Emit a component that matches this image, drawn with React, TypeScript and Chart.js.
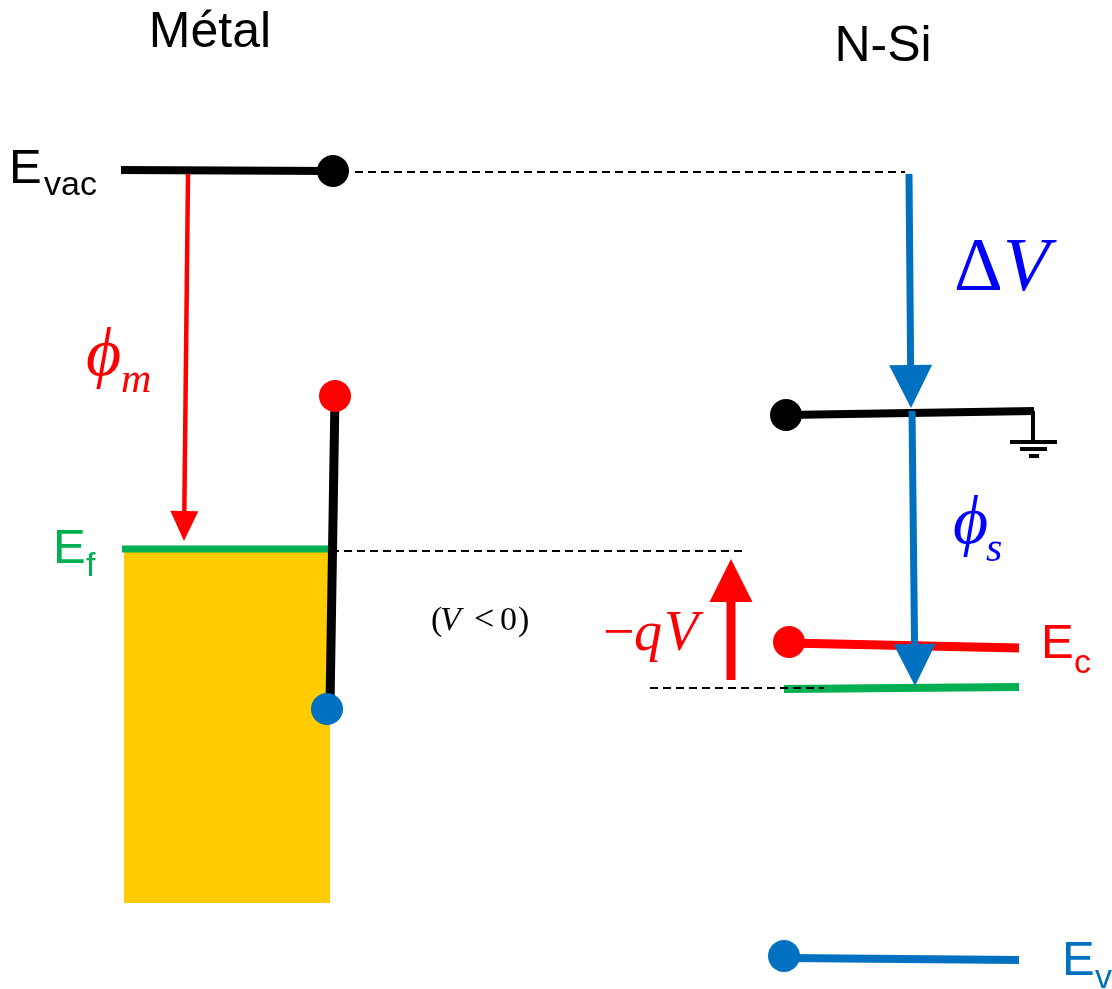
import React, { useEffect, useRef } from 'react';
import { Chart, registerables } from 'chart.js';

Chart.register(...registerables);

type Pt = { x: number; y: number };

// Diagram space: x to the right, y downward (a higher level sits at a smaller y).
const WIDTH = 1112;
const HEIGHT = 989;

// Metal side
const metalVacuum: Pt[] = [{ x: 121, y: 170 }, { x: 333, y: 171 }];
const metalFermi: Pt[] = [{ x: 122, y: 549 }, { x: 328, y: 549 }];
const metalFilled: Pt[] = [{ x: 124, y: 552 }, { x: 330, y: 552 }];
const metalBandBottom = 903;
const metalEdge: Pt[] = [{ x: 335, y: 396 }, { x: 330, y: 706 }];

// N-Si side
const siContact: Pt[] = [{ x: 786, y: 415 }, { x: 1034, y: 411 }];
const groundStem: Pt[] = [{ x: 1033, y: 411 }, { x: 1033, y: 442 }];
const groundBars: Pt[][] = [
  [{ x: 1010, y: 442 }, { x: 1057, y: 442 }],
  [{ x: 1020, y: 449 }, { x: 1047, y: 449 }],
  [{ x: 1029, y: 456 }, { x: 1039, y: 456 }],
];
const siConduction: Pt[] = [{ x: 789, y: 643 }, { x: 1019, y: 648 }];
const siFermi: Pt[] = [{ x: 784, y: 689 }, { x: 1019, y: 687 }];
const siValence: Pt[] = [{ x: 786, y: 958 }, { x: 1019, y: 960 }];

// Reference (dashed) lines
const vacuumDash: Pt[] = [{ x: 355, y: 172 }, { x: 905, y: 172 }];
const fermiDash: Pt[] = [{ x: 331, y: 551 }, { x: 745, y: 551 }];
const siFermiDash: Pt[] = [{ x: 650, y: 688 }, { x: 824, y: 688 }];

// Arrows: start -> tip
const phiMArrow: Pt[] = [{ x: 188, y: 174 }, { x: 184, y: 541 }];
const deltaVArrow: Pt[] = [{ x: 909, y: 174 }, { x: 911, y: 408 }];
const phiSArrow: Pt[] = [{ x: 912, y: 411 }, { x: 915, y: 686 }];
const qVArrow: Pt[] = [{ x: 731, y: 680 }, { x: 731, y: 559 }];

// End dots
const blackDots: Pt[] = [{ x: 333, y: 171 }, { x: 786, y: 415 }];
const redDots: Pt[] = [{ x: 335, y: 396 }, { x: 789, y: 642 }];
const blueDots: Pt[] = [{ x: 327, y: 709 }, { x: 784, y: 956 }];

const SANS = '"Liberation Sans", Arial, sans-serif';
const SERIF = '"Liberation Serif", "Times New Roman", serif';

const RED = '#ff0000';
const GREEN = '#00b050';
const BLUE = '#0070c0';
const MATH_BLUE = '#0000ff';

type Run = { text: string; x: number; y: number; font: string; color: string; align?: CanvasTextAlign };

const labels: Run[] = [
  { text: 'Métal', x: 210, y: 47, font: `50px ${SANS}`, color: '#000', align: 'center' },
  { text: 'N-Si', x: 883, y: 61, font: `50px ${SANS}`, color: '#000', align: 'center' },

  { text: 'E', x: 9, y: 183, font: `49px ${SANS}`, color: '#000' },
  { text: 'vac', x: 44, y: 195, font: `34px ${SANS}`, color: '#000' },

  { text: 'E', x: 53, y: 563, font: `49px ${SANS}`, color: GREEN },
  { text: 'f', x: 86, y: 576, font: `34px ${SANS}`, color: GREEN },

  { text: 'E', x: 1041, y: 658, font: `49px ${SANS}`, color: RED },
  { text: 'c', x: 1074, y: 673, font: `34px ${SANS}`, color: RED },

  { text: 'E', x: 1062, y: 975, font: `49px ${SANS}`, color: BLUE },
  { text: 'v', x: 1095, y: 988, font: `34px ${SANS}`, color: BLUE },

  { text: '\u03D5', x: 86, y: 375, font: `italic 68px ${SERIF}`, color: RED },
  { text: 'm', x: 121, y: 392, font: `italic 42px ${SERIF}`, color: RED },

  { text: '\u03D5', x: 953, y: 543, font: `italic 68px ${SERIF}`, color: MATH_BLUE },
  { text: 's', x: 986, y: 561, font: `italic 42px ${SERIF}`, color: MATH_BLUE },

  { text: '\u0394', x: 954, y: 290, font: `76px ${SERIF}`, color: MATH_BLUE },
  { text: 'V', x: 1003, y: 290, font: `italic 76px ${SERIF}`, color: MATH_BLUE },

  { text: '\u2212', x: 603, y: 650, font: `56px ${SERIF}`, color: RED },
  { text: 'q', x: 634, y: 650, font: `italic 56px ${SERIF}`, color: RED },
  { text: 'V', x: 664, y: 650, font: `italic 56px ${SERIF}`, color: RED },

  { text: '(', x: 431, y: 630, font: `34px ${SERIF}`, color: '#000' },
  { text: 'V', x: 440, y: 630, font: `italic 34px ${SERIF}`, color: '#000' },
  { text: '<', x: 474, y: 630, font: `36px ${SERIF}`, color: '#000' },
  { text: '0', x: 500, y: 630, font: `34px ${SERIF}`, color: '#000' },
  { text: ')', x: 518, y: 630, font: `34px ${SERIF}`, color: '#000' },
];

// Shortens arrow shafts to the base of their heads, then draws the heads.
const arrowHeads = {
  id: 'arrowHeads',
  afterDatasetUpdate(chart: any, args: any) {
    const ds = chart.data.datasets[args.index];
    if (!ds.arrowHead) return;
    const pts = chart.getDatasetMeta(args.index).data;
    const a = pts[pts.length - 2];
    const b = pts[pts.length - 1];
    const dx = b.x - a.x;
    const dy = b.y - a.y;
    const len = Math.hypot(dx, dy) || 1;
    const cut = ds.arrowHead.length - 2;
    b.x -= (dx / len) * cut;
    b.y -= (dy / len) * cut;
  },
  afterDatasetsDraw(chart: any) {
    const { ctx } = chart;
    const xs = chart.scales.x;
    const ys = chart.scales.y;
    chart.data.datasets.forEach((ds: any) => {
      if (!ds.arrowHead) return;
      const d = ds.data as Pt[];
      const from = d[d.length - 2];
      const to = d[d.length - 1];
      const fx = xs.getPixelForValue(from.x);
      const fy = ys.getPixelForValue(from.y);
      const tx = xs.getPixelForValue(to.x);
      const ty = ys.getPixelForValue(to.y);
      const len = Math.hypot(tx - fx, ty - fy) || 1;
      const ux = (tx - fx) / len;
      const uy = (ty - fy) / len;
      const { length, width } = ds.arrowHead;
      const bx = tx - ux * length;
      const by = ty - uy * length;
      ctx.save();
      ctx.fillStyle = ds.borderColor;
      ctx.beginPath();
      ctx.moveTo(tx, ty);
      ctx.lineTo(bx - uy * (width / 2), by + ux * (width / 2));
      ctx.lineTo(bx + uy * (width / 2), by - ux * (width / 2));
      ctx.closePath();
      ctx.fill();
      ctx.restore();
    });
  },
};

const textLabels = {
  id: 'textLabels',
  afterDraw(chart: any) {
    const { ctx } = chart;
    const xs = chart.scales.x;
    const ys = chart.scales.y;
    ctx.save();
    ctx.textBaseline = 'alphabetic';
    labels.forEach((r) => {
      ctx.font = r.font;
      ctx.fillStyle = r.color;
      ctx.textAlign = r.align || 'left';
      ctx.fillText(r.text, xs.getPixelForValue(r.x), ys.getPixelForValue(r.y));
    });
    ctx.restore();
  },
};

function segment(data: Pt[], color: string, width: number, order: number, extra: any = {}) {
  return {
    data,
    showLine: true,
    borderColor: color,
    backgroundColor: color,
    borderWidth: width,
    pointRadius: 0,
    pointHoverRadius: 0,
    fill: false,
    order,
    ...extra,
  };
}

function dots(data: Pt[], color: string) {
  return {
    data,
    showLine: false,
    pointRadius: 16,
    pointHoverRadius: 16,
    pointBorderWidth: 0,
    pointBackgroundColor: color,
    backgroundColor: color,
    borderColor: color,
    order: 0,
  };
}

export default function App() {
  const canvasRef = useRef<HTMLCanvasElement | null>(null);

  useEffect(() => {
    if (!canvasRef.current) return;
    const dash = { borderDash: [8, 5], borderCapStyle: 'butt' };
    const chart = new Chart(canvasRef.current, {
      type: 'scatter',
      data: {
        datasets: [
          segment(metalFilled, '#ffcc00', 0, 5, {
            fill: { value: metalBandBottom },
            backgroundColor: '#ffcc00',
          }),
          segment(metalFermi, GREEN, 7, 4),
          segment(metalVacuum, '#000', 8, 4),
          segment(metalEdge, '#000', 9, 3),
          segment(siContact, '#000', 8, 4),
          segment(groundStem, '#000', 4, 4),
          ...groundBars.map((b) => segment(b, '#000', 4, 4)),
          segment(siConduction, RED, 9, 4),
          segment(siFermi, GREEN, 8, 4),
          segment(siValence, BLUE, 8, 4),
          segment(vacuumDash, '#000', 2, 2, dash),
          segment(fermiDash, '#000', 2, 2, dash),
          segment(siFermiDash, '#000', 2, 2, dash),
          segment(phiMArrow, RED, 4.5, 1, { arrowHead: { length: 30, width: 28 } }),
          segment(deltaVArrow, BLUE, 7, 1, { arrowHead: { length: 43, width: 43 } }),
          segment(phiSArrow, BLUE, 7, 1, { arrowHead: { length: 42, width: 42 } }),
          segment(qVArrow, RED, 9, 1, { arrowHead: { length: 43, width: 43 } }),
          dots(blackDots, '#000'),
          dots(redDots, RED),
          dots(blueDots, BLUE),
        ] as any,
      },
      options: {
        animation: false,
        responsive: false,
        maintainAspectRatio: false,
        layout: { padding: 0, autoPadding: false },
        events: [],
        plugins: {
          legend: { display: false },
          tooltip: { enabled: false },
        },
        scales: {
          x: { type: 'linear', min: 0, max: WIDTH, display: false },
          y: { type: 'linear', min: 0, max: HEIGHT, reverse: true, display: false },
        },
      },
      plugins: [arrowHeads, textLabels],
    });
    return () => chart.destroy();
  }, []);

  return (
    <div style={{ position: 'fixed', left: 0, top: 0, width: WIDTH, height: HEIGHT, background: '#fff' }}>
      <canvas ref={canvasRef} width={WIDTH} height={HEIGHT} />
    </div>
  );
}
